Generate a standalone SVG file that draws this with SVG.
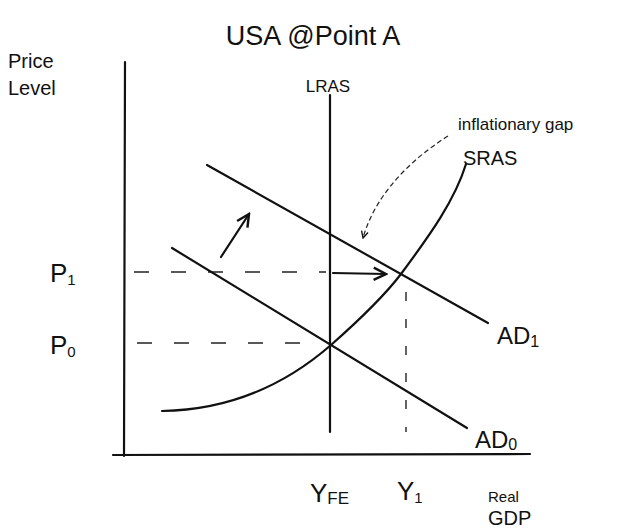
<svg xmlns="http://www.w3.org/2000/svg" width="633" height="531" viewBox="0 0 633 531">
<style>
.ln{stroke:#111;stroke-width:2.2;fill:none;stroke-linecap:round}
.ds{stroke:#222;stroke-width:1.4;fill:none;stroke-dasharray:15 22}
.t{font-family:"Liberation Sans",Arial,sans-serif;fill:#111}
</style>
<defs>
<marker id="ah" viewBox="0 0 10 10" refX="9" refY="5" markerWidth="7" markerHeight="7" orient="auto-start-reverse">
<path d="M1,1 L9,5 L1,9" fill="none" stroke="#111" stroke-width="1.6"/>
</marker>
</defs>
<rect width="633" height="531" fill="#fff"/>
<text class="t" x="313" y="45" font-size="27" text-anchor="middle">USA @Point A</text>
<g id="axes">
<line class="ln" x1="125" y1="62" x2="124" y2="456"/>
<line class="ln" x1="113" y1="455" x2="530" y2="454"/>
<text class="t" x="8" y="68" font-size="20">Price</text>
<text class="t" x="8" y="95" font-size="20">Level</text>
<text class="t" x="488" y="502" font-size="15">Real</text>
<text class="t" x="488" y="525" font-size="20">GDP</text>
</g>
<g id="connectors">
<line class="ds" x1="134" y1="272" x2="326" y2="272"/>
<line class="ds" x1="137" y1="343" x2="320" y2="343"/>
<line class="ds" x1="406" y1="292" x2="406" y2="432" style="stroke-dasharray:9 18"/>
<line class="ln" x1="333" y1="273" x2="386" y2="274" marker-end="url(#ah)"/>
<line class="ln" x1="221" y1="257" x2="249" y2="214" marker-end="url(#ah)"/>
<path d="M448,136 C410,160 375,195 363,238" fill="none" stroke="#222" stroke-width="1.2" stroke-dasharray="5 3" marker-end="url(#ah)"/>
</g>
<g id="lras">
<line class="ln" x1="330" y1="95" x2="330" y2="432"/>
<text class="t" x="328" y="92" font-size="17" text-anchor="middle">LRAS</text>
</g>
<g id="sras">
<path class="ln" d="M162,411 C230,410 285,385 331,345 C365,315 385,295 401,274 C430,235 455,200 466,164"/>
<text class="t" x="463" y="165" font-size="20">SRAS</text>
<text class="t" x="458" y="130" font-size="17">inflationary gap</text>
</g>
<g id="ad1">
<line class="ln" x1="207" y1="165" x2="488" y2="323"/>
<text class="t" x="497" y="344" font-size="24">AD<tspan font-size="16" dy="3">1</tspan></text>
</g>
<g id="ad0">
<line class="ln" x1="172" y1="248" x2="467" y2="428"/>
<text class="t" x="475" y="448" font-size="24">AD<tspan font-size="16" dy="2">0</tspan></text>
</g>
<g id="labels">
<text class="t" x="50" y="282" font-size="26">P<tspan font-size="15" dy="3">1</tspan></text>
<text class="t" x="50" y="354" font-size="26">P<tspan font-size="15" dy="3">0</tspan></text>
<text class="t" x="310" y="502" font-size="26">Y<tspan font-size="17" dy="2">FE</tspan></text>
<text class="t" x="397" y="500" font-size="26">Y<tspan font-size="15" dy="3">1</tspan></text>
</g>
</svg>
